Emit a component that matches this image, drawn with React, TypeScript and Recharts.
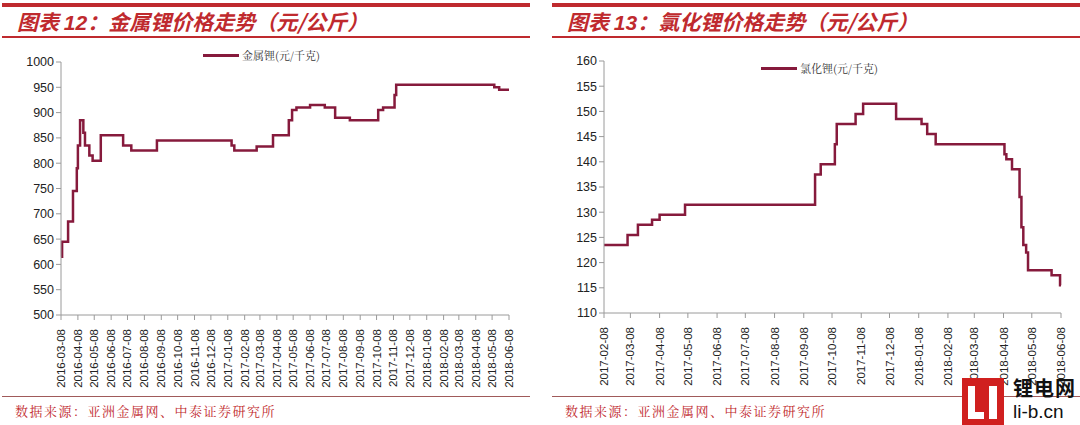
import { LineChart, Line, XAxis, YAxis } from "recharts";

// 金属锂 price change points (date, 元/千克)
const metalDates = [
  "2016-03-08", "2016-03-10", "2016-03-21", "2016-03-30", "2016-04-06", "2016-04-08",
  "2016-04-12", "2016-04-18", "2016-04-21", "2016-04-29", "2016-05-05", "2016-05-20",
  "2016-06-30", "2016-07-15", "2016-08-31", "2017-01-15", "2017-01-20", "2017-03-02",
  "2017-04-01", "2017-04-30", "2017-05-06", "2017-05-14", "2017-06-08", "2017-07-05",
  "2017-07-24", "2017-08-20", "2017-10-11", "2017-10-20", "2017-11-10", "2017-11-13",
  "2018-05-12", "2018-05-21", "2018-06-08",
];
const metalPrices = [
  615, 645, 685, 745, 790, 835,
  885, 860, 835, 815, 805, 855,
  835, 825, 845, 835, 825, 833,
  855, 885, 905, 910, 915, 910,
  890, 885, 905, 910, 935, 955,
  950, 945, 945,
];
const metalTicks = [
  "2016-03-08", "2016-04-08", "2016-05-08", "2016-06-08", "2016-07-08", "2016-08-08",
  "2016-09-08", "2016-10-08", "2016-11-08", "2016-12-08", "2017-01-08", "2017-02-08",
  "2017-03-08", "2017-04-08", "2017-05-08", "2017-06-08", "2017-07-08", "2017-08-08",
  "2017-09-08", "2017-10-08", "2017-11-08", "2017-12-08", "2018-01-08", "2018-02-08",
  "2018-03-08", "2018-04-08", "2018-05-08", "2018-06-08",
];
const metalYTicks = [500, 550, 600, 650, 700, 750, 800, 850, 900, 950, 1000];

// 氯化锂 price change points (date, 元/千克)
const chlorideDates = [
  "2017-02-08", "2017-03-05", "2017-03-16", "2017-03-31", "2017-04-08", "2017-05-05",
  "2017-09-20", "2017-09-26", "2017-10-11", "2017-10-13", "2017-11-02", "2017-11-10",
  "2017-12-15", "2018-01-11", "2018-01-17", "2018-01-26", "2018-04-09", "2018-04-11",
  "2018-04-17", "2018-04-25", "2018-04-27", "2018-04-29", "2018-05-02", "2018-05-04",
  "2018-05-29", "2018-06-07", "2018-06-08",
];
const chloridePrices = [
  123.5, 125.5, 127.5, 128.5, 129.5, 131.5,
  137.5, 139.5, 143.5, 147.5, 149.5, 151.5,
  148.5, 147.5, 145.5, 143.5, 141.5, 140.5,
  138.5, 133, 127, 123.5, 122, 118.5,
  117.5, 115.5, 115.5,
];
const chlorideTicks = [
  "2017-02-08", "2017-03-08", "2017-04-08", "2017-05-08", "2017-06-08", "2017-07-08",
  "2017-08-08", "2017-09-08", "2017-10-08", "2017-11-08", "2017-12-08", "2018-01-08",
  "2018-02-08", "2018-03-08", "2018-04-08", "2018-05-08", "2018-06-08",
];
const chlorideYTicks = [110, 115, 120, 125, 130, 135, 140, 145, 150, 155, 160];

const toTime = (s: string) => {
  const [y, m, d] = s.split("-").map(Number);
  return Date.UTC(y, m - 1, d);
};
const fmt = (t: number) => new Date(t).toISOString().slice(0, 10);

const metalData = metalDates.map((d, i) => ({ t: toTime(d), v: metalPrices[i] }));
const chlorideData = chlorideDates.map((d, i) => ({ t: toTime(d), v: chloridePrices[i] }));

const LINE = "#861a3c";
const RED = "#bf2a2e";
const AXIS = "#9a9a9a";
const SANS = "Arial, 'Liberation Sans', sans-serif";
const CJK = "'Noto Sans CJK SC', sans-serif";
const SERIF = "'Noto Serif CJK SC', 'AR PL UMing CN', serif";

const DateTick = (props: any) => {
  const { x, y, payload } = props;
  return (
    <g transform={`translate(${x},${y})`}>
      <text
        transform="rotate(-90)"
        x={-7}
        y={4}
        textAnchor="end"
        fontSize={11.5}
        fontFamily={SANS}
        fill="#222"
      >
        {fmt(payload.value)}
      </text>
    </g>
  );
};

function LegendKey({ left, top, label }: { left: number; top: number; label: string }) {
  return (
    <div
      style={{
        position: "absolute", left, top, display: "flex", alignItems: "center",
        fontFamily: SERIF, fontSize: 11, color: "#333", whiteSpace: "nowrap",
      }}
    >
      <span style={{ display: "inline-block", width: 36, height: 3, background: LINE, marginRight: 3 }} />
      <span>{label}</span>
    </div>
  );
}

function Panel({
  left, width, title, source, children,
}: { left: number; width: number; title: React.ReactNode; source: string; children: React.ReactNode }) {
  return (
    <div style={{ position: "absolute", left, top: 0, width, height: 425 }}>
      <div style={{ position: "absolute", left: 0, top: 3, width, height: 4, background: RED }} />
      <div
        style={{
          position: "absolute", left: 15, top: 6, fontFamily: CJK, fontWeight: 700,
          fontStyle: "italic", fontSize: 21, color: RED, whiteSpace: "nowrap",
        }}
      >
        {title}
      </div>
      <div style={{ position: "absolute", left: 0, top: 36, width, height: 2, background: RED }} />
      {children}
      <div style={{ position: "absolute", left: 0, top: 396, width, height: 1, background: "#a05a5a" }} />
      <div
        style={{
          position: "absolute", left: 13, top: 401, fontFamily: SERIF,
          fontSize: 13, color: RED, whiteSpace: "nowrap", letterSpacing: 1.5,
        }}
      >
        {source}
      </div>
    </div>
  );
}

export default function App() {
  return (
    <div style={{ position: "absolute", left: 0, top: 0, width: 1080, height: 425, background: "#fff", overflow: "hidden" }}>
      <Panel
        left={2}
        width={528}
        title={<>图表 <span style={{ fontFamily: SANS }}>12</span>：金属锂价格走势（元/公斤）</>}
        source="数据来源：亚洲金属网、中泰证券研究所"
      >
        <div style={{ position: "absolute", left: -2, top: 0 }}>
          <LineChart width={540} height={400} data={metalData} margin={{ top: 62, right: 31, bottom: 0, left: 0 }}>
            <XAxis
              dataKey="t"
              type="number"
              scale="time"
              domain={[toTime(metalTicks[0]), toTime(metalTicks[metalTicks.length - 1])]}
              ticks={metalTicks.map(toTime)}
              interval={0}
              height={85}
              tick={<DateTick />}
              tickSize={5}
              stroke={AXIS}
            />
            <YAxis
              type="number"
              domain={[500, 1000]}
              ticks={metalYTicks}
              interval={0}
              width={61}
              tickSize={5}
              stroke={AXIS}
              tick={{ fontSize: 12.5, fill: "#222", fontFamily: SANS }}
            />
            <Line
              type="stepAfter"
              dataKey="v"
              stroke={LINE}
              strokeWidth={2.5}
              dot={false}
              isAnimationActive={false}
            />
          </LineChart>
        </div>
        <LegendKey left={201} top={47} label="金属锂(元/千克)" />
      </Panel>

      <Panel
        left={552}
        width={528}
        title={<>图表 <span style={{ fontFamily: SANS }}>13</span>：氯化锂价格走势（元/公斤）</>}
        source="数据来源：亚洲金属网、中泰证券研究所"
      >
        <div style={{ position: "absolute", left: -7, top: 0 }}>
          <LineChart width={535} height={400} data={chlorideData} margin={{ top: 61, right: 19, bottom: 0, left: 0 }}>
            <XAxis
              dataKey="t"
              type="number"
              scale="time"
              domain={[toTime(chlorideTicks[0]), toTime(chlorideTicks[chlorideTicks.length - 1])]}
              ticks={chlorideTicks.map(toTime)}
              interval={0}
              height={87}
              tick={<DateTick />}
              tickSize={5}
              stroke={AXIS}
            />
            <YAxis
              type="number"
              domain={[110, 160]}
              ticks={chlorideYTicks}
              interval={0}
              width={59}
              tickSize={5}
              stroke={AXIS}
              tick={{ fontSize: 12.5, fill: "#222", fontFamily: SANS }}
            />
            <Line
              type="stepAfter"
              dataKey="v"
              stroke={LINE}
              strokeWidth={2.5}
              dot={false}
              isAnimationActive={false}
            />
          </LineChart>
        </div>
        <LegendKey left={209} top={60} label="氯化锂(元/千克)" />
      </Panel>

      {/* watermark logo */}
      <div style={{ position: "absolute", left: 962, top: 378, width: 42, height: 47, background: "#d0201f" }}>
        <div style={{ position: "absolute", left: 6, top: 8, width: 7, height: 33, background: "#fff" }} />
        <div style={{ position: "absolute", left: 6, top: 34, width: 16, height: 7, background: "#fff" }} />
        <div style={{ position: "absolute", left: 27, top: 8, width: 8, height: 33, background: "#fff" }} />
      </div>
      <div style={{ position: "absolute", left: 1013, top: 377, fontFamily: CJK, fontWeight: 700, fontSize: 20, color: "#111", letterSpacing: 1, lineHeight: "22px" }}>
        锂电网
      </div>
      <div style={{ position: "absolute", left: 1013, top: 401, fontFamily: SANS, fontSize: 19, color: "#111", lineHeight: "22px" }}>
        li-b.cn
      </div>
    </div>
  );
}
